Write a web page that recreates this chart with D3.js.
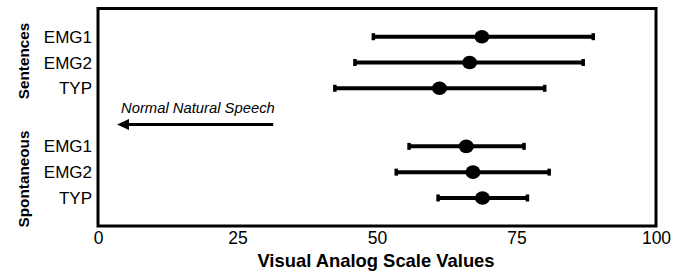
<!DOCTYPE html>
<html>
<head>
<meta charset="utf-8">
<script src="https://cdn.jsdelivr.net/npm/d3@7"></script>
<style>
  html, body { margin: 0; padding: 0; background: #fff; }
  svg { display: block; font-family: "Liberation Sans", Arial, Helvetica, sans-serif; }
</style>
</head>
<body>
<svg id="chart" width="684" height="271"></svg>
<script>
// ---- data ----
const groups = ["Sentences", "Spontaneous"];
const rowLabels = ["EMG1", "EMG2", "TYP", "EMG1", "EMG2", "TYP"];
const rowGroup = [0, 0, 0, 1, 1, 1];
const rowPos = [0, 1, 2, 4.25, 5.25, 6.25];
const means = [68.8, 66.6, 61.2, 66.0, 67.2, 68.9];
const lows  = [49.3, 46.0, 42.4, 55.7, 53.4, 60.9];
const highs = [88.8, 87.0, 80.1, 76.4, 80.9, 77.0];
const xTicks = [0, 25, 50, 75, 100];
const annotationText = "Normal Natural Speech";
const arrowFrom = 31.4, arrowTo = 3.4, arrowRow = 3.4;
const xTitle = "Visual Analog Scale Values";

// ---- layout ----
const svg = d3.select("#chart");
const x = d3.scaleLinear().domain([0, 100]).range([98, 656]);
const y = d3.scaleLinear().domain([0, 1]).range([36.7, 62.5]);
const plotTop = 8.5, plotBottom = 226;

// frame
svg.append("rect")
  .attr("x", x(0)).attr("y", plotTop)
  .attr("width", x(100) - x(0)).attr("height", plotBottom - plotTop)
  .attr("fill", "none").attr("stroke", "#000").attr("stroke-width", 3);

// x axis labels
const axis = d3.axisBottom(x).tickValues(xTicks).tickSize(0).tickPadding(0).tickFormat(d3.format("d"));
const gx = svg.append("g").attr("transform", `translate(0,${plotBottom})`).call(axis);
gx.select(".domain").remove();
gx.selectAll("text")
  .attr("dy", null).attr("y", 17.5)
  .attr("font-size", 17.5).attr("font-family", "Liberation Sans, Arial, sans-serif")
  .attr("fill", "#000");

svg.append("text")
  .attr("x", (x(0) + x(100)) / 2 - 1).attr("y", 266.5)
  .attr("text-anchor", "middle").attr("font-weight", "bold").attr("font-size", 18.4)
  .text(xTitle);

// row labels
svg.selectAll("text.row").data(rowLabels).join("text")
  .attr("class", "row")
  .attr("x", 92).attr("y", (d, i) => y(rowPos[i]) + 6)
  .attr("text-anchor", "end").attr("font-size", 17)
  .text(d => d);

// group labels
const groupCenters = [61, 179];
svg.selectAll("text.grp").data(groups).join("text")
  .attr("class", "grp")
  .attr("transform", (d, i) => `translate(28.5,${groupCenters[i]}) rotate(-90)`)
  .attr("text-anchor", "middle").attr("font-weight", "bold").attr("font-size", 15.3)
  .text(d => d);

// error bars
const rows = rowLabels.map((d, i) => ({ i, lo: lows[i], hi: highs[i], m: means[i], p: rowPos[i] }));
const g = svg.append("g");
g.selectAll("line.bar").data(rows).join("line")
  .attr("x1", d => x(d.lo)).attr("x2", d => x(d.hi))
  .attr("y1", d => y(d.p)).attr("y2", d => y(d.p))
  .attr("stroke", "#000").attr("stroke-width", 4);
g.selectAll("rect.capL").data(rows).join("rect")
  .attr("x", d => x(d.lo) - 1.5).attr("y", d => y(d.p) - 3.5)
  .attr("width", 3.5).attr("height", 7).attr("fill", "#000");
g.selectAll("rect.capR").data(rows).join("rect")
  .attr("x", d => x(d.hi) - 2).attr("y", d => y(d.p) - 3.5)
  .attr("width", 3.5).attr("height", 7).attr("fill", "#000");
g.selectAll("ellipse").data(rows).join("ellipse")
  .attr("cx", d => x(d.m)).attr("cy", d => y(d.p))
  .attr("rx", 7.5).attr("ry", 6.8).attr("fill", "#000");

// annotation arrow
const ay = y(arrowRow);
svg.append("line")
  .attr("x1", x(arrowFrom)).attr("x2", x(arrowTo) + 10)
  .attr("y1", ay).attr("y2", ay)
  .attr("stroke", "#000").attr("stroke-width", 3);
svg.append("path")
  .attr("d", `M${x(arrowTo)},${ay} L${x(arrowTo) + 12},${ay - 5.5} L${x(arrowTo) + 12},${ay + 5.5} Z`)
  .attr("fill", "#000");
svg.append("text")
  .attr("x", 121).attr("y", 113)
  .attr("font-style", "italic").attr("font-size", 14.8)
  .text(annotationText);
</script>
</body>
</html>
